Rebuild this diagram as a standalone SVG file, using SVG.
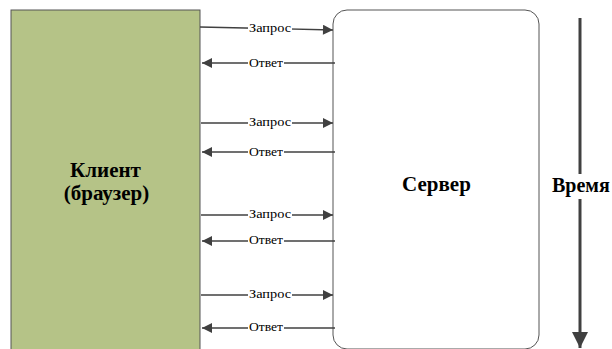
<svg xmlns="http://www.w3.org/2000/svg" width="612" height="349" viewBox="0 0 612 349">
<style>
.ln{stroke:#404040;stroke-width:1.3;fill:none}
</style>
<defs>
<marker id="ah" viewBox="0 0 10 10" refX="10" refY="5" markerWidth="17" markerHeight="10" markerUnits="userSpaceOnUse" orient="auto">
<path d="M0,0 L10,5 L0,10 z" fill="#404040"/>
</marker>
<marker id="ahb" viewBox="0 0 10 10" refX="10" refY="5" markerWidth="28" markerHeight="16" markerUnits="userSpaceOnUse" orient="auto">
<path d="M0,0 L10,5 L0,10 z" fill="#404040"/>
</marker>
</defs>
<g id="client">
<rect x="11" y="10" width="189" height="345" fill="#b5c387" stroke="#555" stroke-width="1"/>
<text x="105.5" y="177" font-family="Liberation Serif" font-size="21" font-weight="bold" text-anchor="middle">Клиент</text>
<text x="106.5" y="200" font-family="Liberation Serif" font-size="21" font-weight="bold" text-anchor="middle">(браузер)</text>
</g>
<g id="server">
<rect x="333" y="10" width="206" height="339" rx="14" ry="14" fill="#fff" stroke="#555" stroke-width="1"/>
<text x="436.5" y="191" font-family="Liberation Serif" font-size="21" font-weight="bold" text-anchor="middle">Сервер</text>
</g>
<g id="time">
<line x1="580" y1="18" x2="580" y2="174" stroke="#404040" stroke-width="3"/>
<line x1="580" y1="199" x2="580" y2="348" stroke="#404040" stroke-width="3" marker-end="url(#ahb)"/>
<text x="552" y="192" font-family="Liberation Serif" font-size="20" font-weight="bold">Время</text>
</g>
<g id="connectors">
<path class="ln" d="M200,27 L333,30" marker-end="url(#ah)"/>
<path class="ln" d="M335,63 L202,63" marker-end="url(#ah)"/>
<path class="ln" d="M201,123 L333,123" marker-end="url(#ah)"/>
<path class="ln" d="M335,152 L202,152" marker-end="url(#ah)"/>
<path class="ln" d="M201,215 L333,215" marker-end="url(#ah)"/>
<path class="ln" d="M335,241 L202,241" marker-end="url(#ah)"/>
<path class="ln" d="M201,295 L333,295" marker-end="url(#ah)"/>
<path class="ln" d="M335,328 L202,328" marker-end="url(#ah)"/>
<g font-family="Liberation Serif" font-size="12">
<rect x="248" y="22" width="44" height="11" fill="#fff"/><text x="249" y="32" textLength="42" lengthAdjust="spacingAndGlyphs">Запрос</text>
<rect x="248" y="58" width="36" height="11" fill="#fff"/><text x="249" y="67" textLength="34" lengthAdjust="spacingAndGlyphs">Ответ</text>
<rect x="248" y="117" width="44" height="11" fill="#fff"/><text x="249" y="126" textLength="42" lengthAdjust="spacingAndGlyphs">Запрос</text>
<rect x="248" y="147" width="36" height="11" fill="#fff"/><text x="249" y="156" textLength="34" lengthAdjust="spacingAndGlyphs">Ответ</text>
<rect x="248" y="209" width="44" height="11" fill="#fff"/><text x="249" y="218" textLength="42" lengthAdjust="spacingAndGlyphs">Запрос</text>
<rect x="248" y="235" width="36" height="11" fill="#fff"/><text x="249" y="244" textLength="34" lengthAdjust="spacingAndGlyphs">Ответ</text>
<rect x="248" y="289" width="44" height="11" fill="#fff"/><text x="249" y="298" textLength="42" lengthAdjust="spacingAndGlyphs">Запрос</text>
<rect x="248" y="322" width="36" height="11" fill="#fff"/><text x="249" y="331" textLength="34" lengthAdjust="spacingAndGlyphs">Ответ</text>
</g>
</g>
</svg>
